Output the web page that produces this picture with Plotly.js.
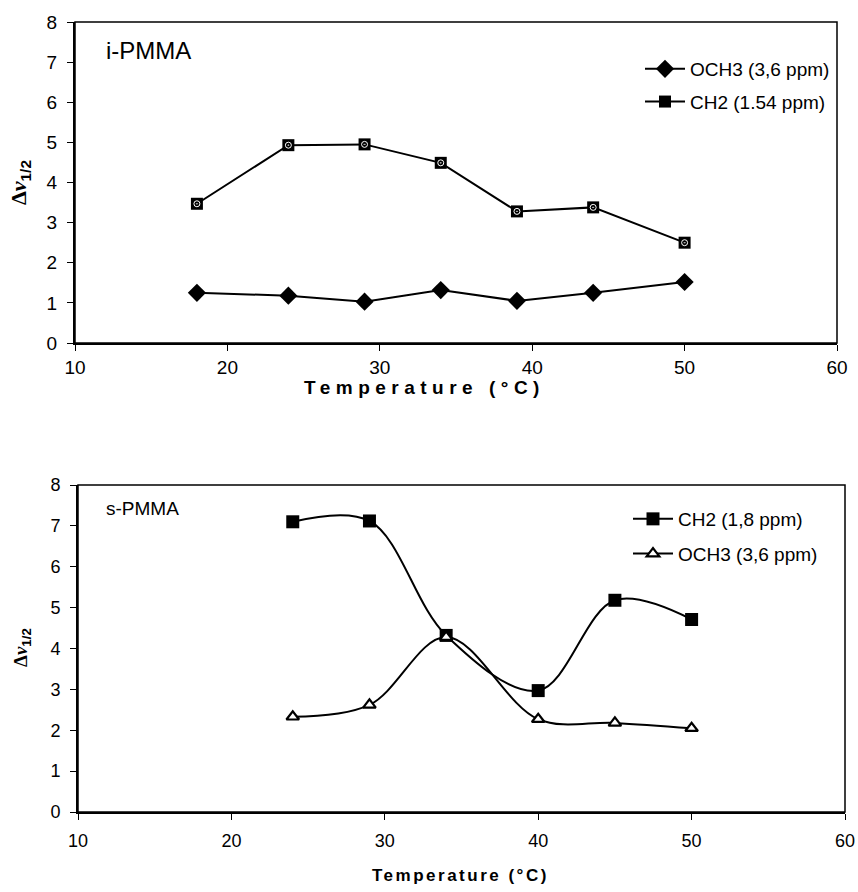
<!DOCTYPE html>
<html>
<head>
<meta charset="utf-8">
<script src="https://cdn.plot.ly/plotly-3.0.1.min.js"></script>
<style>
  html, body { margin: 0; padding: 0; background: #ffffff; }
  #chart { width: 858px; height: 892px; }
</style>
</head>
<body>
<div id="chart"></div>
<script>
// i-PMMA: line widths at half height vs. temperature
const isoTemps = [18, 24, 29, 34, 39, 44, 50];
const isoOCH3 = [1.25, 1.18, 1.03, 1.32, 1.05, 1.25, 1.52];
const isoCH2 = [3.47, 4.93, 4.95, 4.49, 3.28, 3.38, 2.5];

// s-PMMA: line widths at half height vs. temperature
const synTemps = [24, 29, 34, 40, 45, 50];
const synCH2 = [7.1, 7.12, 4.32, 2.97, 5.18, 4.71];
const synOCH3 = [2.33, 2.62, 4.28, 2.27, 2.18, 2.05];

const xTicks = [10, 20, 30, 40, 50, 60];
const yTicks = [0, 1, 2, 3, 4, 5, 6, 7, 8];

const W = 858, H = 892;
const px = v => v / W;
const py = v => 1 - v / H;

const SANS = 'Liberation Sans, Arial, sans-serif';
const SERIF = 'Liberation Serif, Times New Roman, serif';

const traces = [
  {
    x: isoTemps, y: isoOCH3, name: 'OCH3 (3,6 ppm)',
    xaxis: 'x', yaxis: 'y', legend: 'legend', legendgroup: 'a',
    mode: 'lines+markers',
    line: { color: '#000', width: 2 },
    marker: { symbol: 'diamond', size: 14, color: '#000' }
  },
  {
    x: isoTemps, y: isoCH2, name: 'CH2 (1.54 ppm)',
    xaxis: 'x', yaxis: 'y', legend: 'legend', legendgroup: 'b',
    mode: 'lines+markers',
    line: { color: '#000', width: 2 },
    marker: { symbol: 'square', size: 12, color: '#000' }
  },
  {
    // dotted texture inside the CH2 squares
    x: isoTemps, y: isoCH2, name: 'CH2 texture',
    xaxis: 'x', yaxis: 'y', showlegend: false,
    mode: 'markers',
    marker: { symbol: 'circle-open-dot', size: 6, color: '#fff', line: { color: '#fff', width: 1 } }
  },
  {
    x: synTemps, y: synCH2, name: 'CH2 (1,8 ppm)',
    xaxis: 'x2', yaxis: 'y2', legend: 'legend2', legendgroup: 'c',
    mode: 'lines+markers',
    line: { color: '#000', width: 2, shape: 'spline', smoothing: 1 },
    marker: { symbol: 'square', size: 13, color: '#000' }
  },
  {
    x: synTemps, y: synOCH3, name: 'OCH3 (3,6 ppm)',
    xaxis: 'x2', yaxis: 'y2', legend: 'legend2', legendgroup: 'd',
    mode: 'lines+markers',
    line: { color: '#000', width: 2, shape: 'spline', smoothing: 1 },
    marker: { symbol: 'triangle-up', size: 11, color: '#fff', line: { color: '#000', width: 2.2 } }
  }
];

function xAxis(domain, anchor, fontSize, standoff) {
  return {
    domain: domain, anchor: anchor, range: [10, 60],
    tickvals: xTicks, ticktext: xTicks.map(String),
    showgrid: false, zeroline: false,
    showline: true, linecolor: '#000', linewidth: 2,
    ticks: 'outside', ticklen: 6, tickwidth: 1, tickcolor: '#000',
    ticklabelstandoff: standoff,
    tickfont: { family: SANS, size: fontSize, color: '#000' },
    fixedrange: true
  };
}
function yAxis(domain, anchor, fontSize, standoff) {
  return {
    domain: domain, anchor: anchor, range: [0, 8],
    tickvals: yTicks, ticktext: yTicks.map(String),
    showgrid: false, zeroline: false,
    showline: true, linecolor: '#000', linewidth: 2,
    ticks: 'outside', ticklen: 6, tickwidth: 1, tickcolor: '#000',
    ticklabelstandoff: standoff,
    tickfont: { family: SANS, size: fontSize, color: '#000' },
    fixedrange: true
  };
}

const yTitle = '<b>Δ<i>ν</i></b><span style="font-family:Liberation Sans"><sub><b>1/2</b></sub></span>';
const xTitleTop = '<b><span style="letter-spacing:5.5px">Temperature (°C)</span></b>';
const xTitleBottom = '<b><span style="letter-spacing:2.5px">Temperature (°C)</span></b>';

const layout = {
  width: W, height: H,
  margin: { l: 0, r: 0, t: 0, b: 0 },
  paper_bgcolor: '#fff', plot_bgcolor: '#fff',
  showlegend: true,
  hovermode: false,
  xaxis: xAxis([px(75), px(837)], 'y', 19, 0),
  yaxis: yAxis([py(343), py(22)], 'x', 19, 6),
  xaxis2: xAxis([px(78), px(845)], 'y2', 18, 5),
  yaxis2: yAxis([py(812), py(485)], 'x2', 18, 6),
  legend: {
    x: px(640), y: py(50), xanchor: 'left', yanchor: 'top',
    bgcolor: 'rgba(0,0,0,0)', borderwidth: 0, itemwidth: 40,
    font: { family: SANS, size: 19, color: '#000' },
    traceorder: 'grouped', tracegroupgap: 5
  },
  legend2: {
    x: px(628), y: py(500), xanchor: 'left', yanchor: 'top',
    bgcolor: 'rgba(0,0,0,0)', borderwidth: 0, itemwidth: 40,
    font: { family: SANS, size: 19, color: '#000' },
    traceorder: 'grouped', tracegroupgap: 7
  },
  shapes: [
    { type: 'rect', xref: 'x domain', yref: 'y domain', x0: 0, x1: 1, y0: 0, y1: 1,
      line: { color: '#000', width: 1.5 } },
    { type: 'rect', xref: 'x2 domain', yref: 'y2 domain', x0: 0, x1: 1, y0: 0, y1: 1,
      line: { color: '#000', width: 1.5 } }
  ],
  annotations: [
    { text: 'i-PMMA', xref: 'paper', yref: 'paper', x: px(104), y: py(50),
      xanchor: 'left', yanchor: 'middle', showarrow: false,
      font: { family: SANS, size: 24, color: '#000' } },
    { text: 's-PMMA', xref: 'paper', yref: 'paper', x: px(104), y: py(508),
      xanchor: 'left', yanchor: 'middle', showarrow: false,
      font: { family: SANS, size: 19, color: '#000' } },
    { text: yTitle, xref: 'paper', yref: 'paper', x: px(20), y: py(183),
      xanchor: 'center', yanchor: 'middle', textangle: -90, showarrow: false,
      font: { family: SERIF, size: 22, color: '#000' } },
    { text: yTitle, xref: 'paper', yref: 'paper', x: px(22), y: py(648),
      xanchor: 'center', yanchor: 'middle', textangle: -90, showarrow: false,
      font: { family: SERIF, size: 19, color: '#000' } },
    { text: xTitleTop, xref: 'paper', yref: 'paper', x: px(424), y: py(388),
      xanchor: 'center', yanchor: 'middle', showarrow: false,
      font: { family: SANS, size: 19, color: '#000' } },
    { text: xTitleBottom, xref: 'paper', yref: 'paper', x: px(460), y: py(875),
      xanchor: 'center', yanchor: 'middle', showarrow: false,
      font: { family: SANS, size: 17, color: '#000' } }
  ]
};

Plotly.newPlot('chart', traces, layout, { displayModeBar: false, staticPlot: true });
</script>
</body>
</html>
